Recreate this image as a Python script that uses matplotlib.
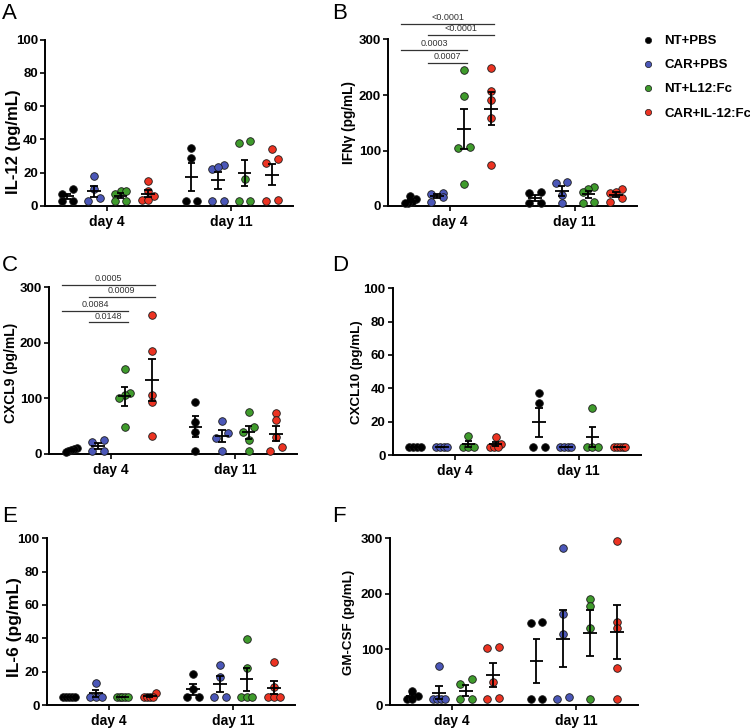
import numpy as np
import matplotlib.pyplot as plt
from matplotlib.lines import Line2D

plt.rcParams['font.family'] = ['Liberation Sans', 'DejaVu Sans']

groups = ['NT+PBS', 'CAR+PBS', 'NT+L12:Fc', 'CAR+IL-12:Fc']
colors = ['#000000', '#4b57b8', '#3f9b2c', '#ec3322']
days = ['day 4', 'day 11']

# values per group (NT+PBS, CAR+PBS, NT+L12:Fc, CAR+IL-12:Fc)
il12_d4 = [[7, 10, 3, 3], [18, 10, 3, 4.6], [9, 9, 7, 3, 3], [15, 9, 6, 3.6, 3.6]]
il12_d11 = [[35, 29, 3, 3], [24.6, 22.4, 23.6, 3, 3], [39, 37.6, 16, 3, 3], [34, 28.2, 25.6, 3, 3.6]]

ifng_d4 = [[18, 12, 8, 6, 5], [24, 22, 17, 7], [245, 198, 107, 105, 39], [249, 207, 191, 158, 73]]
ifng_d11 = [[23, 25, 5, 5], [41, 44, 20, 5], [35, 30, 26, 8, 6], [30, 26, 24, 14, 7]]

cxcl9_d4 = [[11, 9, 7, 5, 4], [21, 25, 6, 6], [153, 109, 107, 100, 49], [251, 185, 106, 94, 32]]
cxcl9_d11 = [[94, 58, 39, 6], [59, 37, 29, 6], [76, 48, 40, 25, 6], [74, 61, 31, 12, 6]]

cxcl10_d4 = [[5, 5, 5, 5], [5, 5, 5, 5], [11.4, 5, 5, 5], [11, 6.4, 5, 5, 5]]
cxcl10_d11 = [[37, 31, 5, 5], [5, 5, 5, 5], [28, 5, 5, 5], [5, 5, 5, 5, 5]]

il6_d4 = [[5, 5, 5, 5, 5], [13, 5, 5, 5], [5, 5, 5, 5, 5], [7.4, 5, 5, 5, 5]]
il6_d11 = [[18.4, 9.4, 5, 5], [24, 16.6, 5, 5], [39.6, 22, 5, 5, 5], [25.6, 11, 5, 5, 5]]

gmcsf_d4 = [[25, 17, 10, 10], [71, 10, 10, 10, 10], [37, 47, 10, 10], [105, 102, 41, 10, 12]]
gmcsf_d11 = [[148, 150, 10, 10], [283, 163, 127, 10, 14], [191, 178, 139, 10], [295, 149, 138, 66, 10]]

# day 4 comparisons: (group a, group b, p value) and bracket height
ifng_sig = [(0, 3, '<0.0001'), (1, 3, '<0.0001'), (0, 2, '0.0003'), (1, 2, '0.0007')]
ifng_sig_y = [328, 308, 281, 258]
cxcl9_sig = [(0, 3, '0.0005'), (1, 3, '0.0009'), (0, 2, '0.0084'), (1, 2, '0.0148')]
cxcl9_sig_y = [305, 283, 258, 237]

W, H = 750, 728
fig = plt.figure(figsize=(W / 100, H / 100), dpi=100)

day_x = [1, 3]
grp_off = [-0.64, -0.21, 0.22, 0.66]


def swarm(vals, ymax, h_px, spread=5.8, row_h=6.0):
    # Prism-like: points closer than row_h px share a row, spread evenly
    px = np.asarray(vals, float) / ymax * h_px
    order = np.argsort(px, kind='stable')
    offs = np.zeros(len(px))
    i = 0
    while i < len(order):
        j = i
        while j + 1 < len(order) and px[order[j + 1]] - px[order[i]] < row_h:
            j += 1
        n = j - i + 1
        if n > 1:
            offs[order[i:j + 1]] = np.linspace(-spread, spread, n)
        i = j + 1
    return offs


def panel(rect, letter, letter_xy, ylabel, lab, d4, d11, ymax, step, sig=None, sig_y=None):
    l, r, t, b = rect
    ax = fig.add_axes([l / W, 1 - b / H, (r - l) / W, (b - t) / H])
    px_per_unit = (r - l) / 4
    for di, data in enumerate([d4, d11]):
        for g, vals in enumerate(data):
            xc = day_x[di] + grp_off[g]
            xs = xc + swarm(vals, ymax, b - t) / px_per_unit
            ax.scatter(xs, vals, s=30, color=colors[g], edgecolor='#1a1a1a',
                       linewidth=0.6, zorder=3, clip_on=False)
            v = np.asarray(vals, float)
            m = v.mean()
            se = v.std(ddof=1) / np.sqrt(len(v))
            ax.hlines(m, xc - 0.11, xc + 0.11, color='k', lw=1.3, zorder=4)
            ax.vlines(xc, m - se, m + se, color='k', lw=1.3, zorder=4)
            ax.hlines([m - se, m + se], xc - 0.06, xc + 0.06, color='k', lw=1.3, zorder=4)
    if sig:
        for (a, c, txt), yy in zip(sig, sig_y):
            x1 = day_x[0] + grp_off[a] - 0.15
            x2 = day_x[0] + grp_off[c] + 0.05
            ax.plot([x1, x2], [yy, yy], color='#333333', lw=0.9, clip_on=False)
            ax.annotate(txt, ((x1 + x2) / 2, yy), xytext=(0, 1.2), textcoords='offset points',
                        ha='center', va='bottom', fontsize=6.5, color='#333333',
                        annotation_clip=False)
    ax.set_xlim(0, 4)
    ax.set_ylim(0, ymax)
    ax.set_yticks(np.arange(0, ymax + 1, step))
    ax.set_xticks(day_x, days)
    for s in ['top', 'right']:
        ax.spines[s].set_visible(False)
    for s in ['left', 'bottom']:
        ax.spines[s].set_linewidth(1.4)
    ax.tick_params(direction='out', length=3.6, width=1.2, labelsize=9.5, pad=1.5)
    ax.tick_params(axis='x', pad=3, labelsize=10)
    for lab_t in ax.get_xticklabels() + ax.get_yticklabels():
        lab_t.set_fontweight('bold')
    # lab = (font size, label centre distance left of spine in px, label centre y in px)
    fs, dx, cy = lab
    ax.set_ylabel(ylabel, fontsize=fs, fontweight='bold')
    half = fs * 100 / 72 * 0.5
    ax.yaxis.set_label_coords(-(dx - half) / (r - l), (b - cy) / (b - t))
    fig.text(letter_xy[0] / W, 1 - letter_xy[1] / H, letter, fontsize=16, va='top', ha='left')
    return ax


panel((45, 293, 39.5, 206), 'A', (2, 3), 'IL-12 (pg/mL)', (12, 32, 142),
      il12_d4, il12_d11, 100, 20)
panel((388, 637, 39.5, 206), 'B', (332, 3), 'IFNγ (pg/mL)', (9.8, 39, 123),
      ifng_d4, ifng_d11, 300, 100, ifng_sig, ifng_sig_y)
panel((49, 297, 287.3, 454), 'C', (2, 255), 'CXCL9 (pg/mL)', (10, 38, 373),
      cxcl9_d4, cxcl9_d11, 300, 100, cxcl9_sig, cxcl9_sig_y)
panel((392.7, 640.7, 288.3, 455), 'D', (332, 255), 'CXCL10 (pg/mL)', (9.6, 36, 372),
      cxcl10_d4, cxcl10_d11, 100, 20)
panel((46.7, 295, 538.3, 705), 'E', (2, 506), 'IL-6 (pg/mL)', (12.5, 33, 627),
      il6_d4, il6_d11, 100, 20)
panel((390, 638.3, 538.3, 705), 'F', (332, 506), 'GM-CSF (pg/mL)', (9.6, 42, 622),
      gmcsf_d4, gmcsf_d11, 300, 100)

# legend
handles = [Line2D([], [], marker='o', ls='none', markersize=4.5, markerfacecolor=c,
                  markeredgecolor='#1a1a1a', markeredgewidth=0.5) for c in colors]
fig.legend(handles, groups, loc='upper left', bbox_to_anchor=(643 / W, 1 - 35 / H),
           frameon=False, handlelength=0.8, handletextpad=0.8, labelspacing=0.9,
           prop={'weight': 'bold', 'size': 9.5}, borderaxespad=0, borderpad=0)

fig.savefig('out.png', dpi=100)
